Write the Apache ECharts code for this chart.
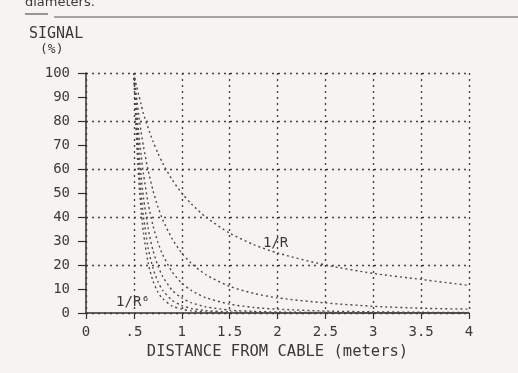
<!DOCTYPE html>
<html>
  <head>
    <meta charset="UTF-8" />
    <title></title>
    <style type="text/css">
      * {
        margin: 0;
        padding: 0;
      }
      body {
        background-color: #f6f3f0;
      }
      #main {
        width: 518px;
        height: 373px;
      }
    </style>
  </head>

  <body>
    <div id="main"></div>
  </body>
  <script src="https://cdn.jsdelivr.net/npm/echarts@6.0.0/dist/echarts.min.js"></script>
  <script type="text/javascript">
    // distance from cable (meters)
    var distance = [0.5, 0.525, 0.55, 0.575, 0.6, 0.65, 0.7, 0.75, 0.8, 0.9, 1.0, 1.1, 1.25, 1.5, 1.75, 2.0, 2.5, 3.0, 3.5, 4.0]
    // signal (%), one list per curve
    var r1 = [100, 95, 91, 87, 83, 77, 71.5, 66.7, 62.5, 55.5, 50, 45.5, 40, 33.3, 28.5, 25, 20, 16.5, 14, 11.5]
    var r2 = [100, 90.7, 82.6, 75.6, 69.4, 59.2, 51, 44.4, 39, 30.9, 25, 20.7, 16, 11.1, 8.2, 6.3, 4.2, 2.8, 2, 1.6]
    var r3 = [100, 86.4, 75.1, 65.8, 57.9, 45.5, 36.4, 29.6, 24.4, 17.1, 12.5, 9.4, 6.4, 3.7, 2.3, 1.6, 0.8, 0.5, 0.3, 0.2]
    var r4 = [100, 82.3, 68.3, 57.2, 48.2, 35, 26, 19.8, 15.3, 9.5, 6.3, 4.3, 2.6, 1.2, 0.7, 0.4, 0.2, 0.1, 0.1, 0]
    var r5 = [100, 78.4, 62.1, 49.7, 40.2, 26.9, 18.6, 13.2, 9.5, 5.3, 3.1, 1.9, 1, 0.4, 0.2, 0.1, 0, 0, 0, 0]
    var r6 = [100, 74.6, 56.4, 43.2, 33.5, 20.7, 13.3, 8.8, 6, 2.9, 1.6, 0.9, 0.4, 0.1, 0.1, 0, 0, 0, 0, 0]
    var curves = [r1, r2, r3, r4, r5, r6]
    var curveNames = ['1/R', '1/R²', '1/R³', '1/R⁴', '1/R⁵', '1/R⁶']
    var xTicks = ['0', '.5', '1', '1.5', '2', '2.5', '3', '3.5', '4']

    var ink = '#3a3a3a'
    var font = 'DejaVu Sans Mono'

    function tag(text, coord) {
      return {
        symbol: 'circle',
        symbolSize: 1,
        itemStyle: { color: 'rgba(0,0,0,0)' },
        label: { show: true, position: 'inside', formatter: text, color: ink, fontFamily: font, fontSize: 14 },
        data: [{ coord: coord }]
      }
    }

    var series = []
    curves.forEach((vals, index) => {
      series.push({
        name: curveNames[index],
        type: 'line',
        smooth: 0.25,
        symbol: 'none',
        silent: true,
        lineStyle: { color: '#4a4a4a', width: 1.4, type: [2, 3] },
        data: vals.map((v, i) => [distance[i], v])
      })
    })
    // curve labels
    series[0].markPoint = tag('1/R', [1.98, 29])
    series[5].markPoint = tag('1/R⁶', [0.49, 4.3])

    var myCharts = echarts.init(document.getElementById('main'))
    var option = {
      animation: false,
      grid: { left: 86, right: 49, top: 73, bottom: 60 },
      graphic: [
        { type: 'text', left: 25, top: -4, style: { text: 'diameters.', fill: ink, font: '13px "DejaVu Sans"' } },
        { type: 'line', shape: { x1: 25, y1: 14, x2: 48, y2: 14 }, style: { stroke: ink, lineWidth: 1 } },
        { type: 'line', shape: { x1: 54, y1: 17, x2: 518, y2: 17 }, style: { stroke: '#555', lineWidth: 1 } },
        { type: 'text', left: 29, top: 27, style: { text: 'SIGNAL', fill: ink, font: '15px "DejaVu Sans Mono"' } },
        { type: 'text', left: 40, top: 43, style: { text: '(%)', fill: ink, font: '13px "DejaVu Sans Mono"' } }
      ],
      xAxis: {
        type: 'value',
        min: 0,
        max: 4,
        interval: 0.5,
        name: 'DISTANCE FROM CABLE (meters)',
        nameLocation: 'middle',
        nameGap: 31,
        nameTextStyle: { color: ink, fontFamily: font, fontSize: 15.5 },
        axisLine: { lineStyle: { color: '#333', width: 1.5 } },
        axisTick: { length: 6, lineStyle: { color: '#333', width: 1.2 } },
        axisLabel: {
          color: ink,
          fontFamily: font,
          fontSize: 14,
          margin: 12,
          formatter: (v) => xTicks[Math.round(v * 2)]
        },
        splitLine: { show: true, lineStyle: { color: '#444', width: 1.4, type: [2, 4] } }
      },
      yAxis: [
        {
          type: 'value',
          min: 0,
          max: 100,
          interval: 10,
          axisLine: { show: true, lineStyle: { color: '#333', width: 1.5 } },
          axisTick: { show: true, length: 8, lineStyle: { color: '#333', width: 1.2 } },
          axisLabel: { color: ink, fontFamily: font, fontSize: 14, margin: 16 },
          splitLine: { show: false }
        },
        {
          type: 'value',
          min: 0,
          max: 100,
          interval: 20,
          position: 'left',
          axisLine: { show: false },
          axisTick: { show: false },
          axisLabel: { show: false },
          splitLine: { show: true, lineStyle: { color: '#444', width: 1.4, type: [2, 4] } }
        }
      ],
      series: series
    }
    myCharts.setOption(option)
  </script>
</html>
